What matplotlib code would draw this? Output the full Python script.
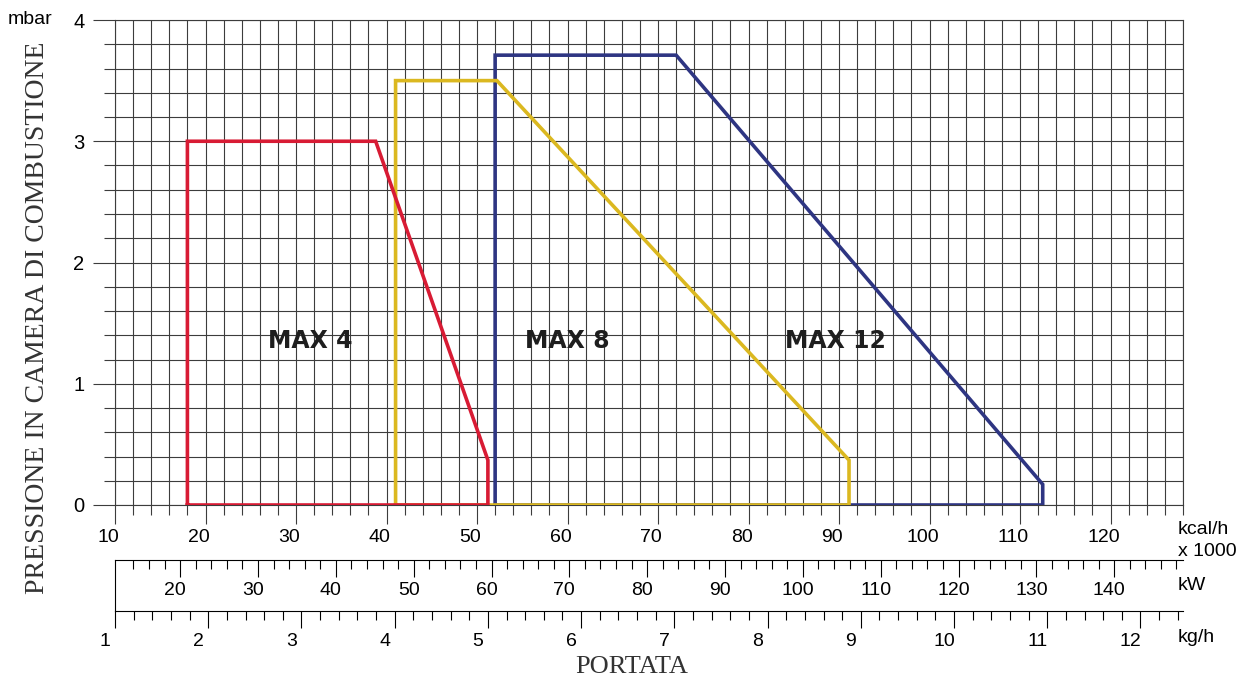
import numpy as np
import matplotlib.pyplot as plt
from matplotlib.transforms import ScaledTranslation

# working envelopes: kcal/h x 1000 vs mbar
max4_x = [18.0, 18.0, 38.8, 51.2, 51.2, 18.0]
max4_y = [0.0, 3.0, 3.0, 0.37, 0.0, 0.0]
max8_x = [41.0, 41.0, 52.2, 91.1, 91.1, 41.0]
max8_y = [0.0, 3.5, 3.5, 0.37, 0.0, 0.0]
max12_x = [52.0, 52.0, 72.0, 112.5, 112.5, 52.0]
max12_y = [0.0, 3.71, 3.71, 0.17, 0.0, 0.0]

names = ['MAX 4', 'MAX 8', 'MAX 12']
name_x = [31.6, 60.0, 89.6]
name_y = 1.35

kcal_ticks = [10, 20, 30, 40, 50, 60, 70, 80, 90, 100, 110, 120]
kw_ticks = [20, 30, 40, 50, 60, 70, 80, 90, 100, 110, 120, 130, 140]
kg_ticks = [1, 2, 3, 4, 5, 6, 7, 8, 9, 10, 11, 12]

red = '#d81b34'
yellow = '#dbb820'
navy = '#2e3582'
gridc = '#3c3c3c'

def kcal2kw(x):
    return np.asarray(x) / 0.86

def kw2kcal(x):
    return np.asarray(x) * 0.86

def kcal2kg(x):
    return 1 + (np.asarray(x) - 10) / 10.3

def kg2kcal(x):
    return 10 + (np.asarray(x) - 1) * 10.3

plt.rcParams['font.family'] = ['Liberation Sans', 'DejaVu Sans']

fig = plt.figure(figsize=(12.49, 6.81), dpi=100)
ax = fig.add_axes([115/1249, 1 - 505/681, 1068/1249, 485/681])

ax.set_xlim(10, 128)
ax.set_ylim(0, 4)
ax.set_xticks(kcal_ticks)
ax.set_xticks(np.arange(10, 129, 2), minor=True)
ax.set_yticks([0, 1, 2, 3, 4])
ax.set_yticks(np.arange(0, 4.01, 0.2), minor=True)
ax.grid(which='both', color=gridc, lw=0.8)
ax.set_axisbelow(True)
for s in ax.spines.values():
    s.set_color(gridc)
    s.set_linewidth(0.8)

ax.tick_params(axis='x', which='major', direction='out', length=14, width=0.8,
               color=gridc, labelsize=14, pad=3)
ax.tick_params(axis='x', which='minor', direction='out', length=7, width=0.8, color=gridc)
ax.tick_params(axis='y', which='major', direction='out', length=16, width=0.8,
               color=gridc, labelsize=14.5, pad=6)
ax.tick_params(axis='y', which='minor', direction='out', length=8, width=0.8, color=gridc)

# envelopes
ax.plot(max12_x, max12_y, color=navy, lw=2.6, solid_joinstyle='miter', zorder=3)
ax.plot(max8_x, max8_y, color=yellow, lw=2.6, solid_joinstyle='miter', zorder=4)
ax.plot(max4_x, max4_y, color=red, lw=2.6, solid_joinstyle='miter', zorder=5)

for n, x in zip(names, name_x):
    ax.text(x, name_y, n, ha='center', va='center', fontsize=17,
            fontweight='bold', family='DejaVu Sans', color='#1e1e1e', zorder=6)

# secondary scales
kw = ax.secondary_xaxis(-55/485, functions=(kcal2kw, kw2kcal))
kw.set_xticks(kw_ticks)
kw.set_xticks(np.arange(14, 149, 2), minor=True)
kw.tick_params(which='major', direction='out', length=12, width=0.8, labelsize=14, pad=4)
kw.tick_params(which='minor', direction='out', length=6.5, width=0.8)
kw.spines['bottom'].set_linewidth(0.8)

kg = ax.secondary_xaxis(-106/485, functions=(kcal2kg, kg2kcal))
kg.set_xticks(kg_ticks)
kg.set_xticks(np.arange(1, 12.5, 0.2), minor=True)
kg.tick_params(which='major', direction='out', length=12, width=0.8, labelsize=14, pad=4)
kg.tick_params(which='minor', direction='out', length=6.5, width=0.8)
kg.spines['bottom'].set_linewidth(0.8)

ax.plot([10, 10], [-55/485, -106/485], color='black', lw=0.8,
        transform=ax.get_xaxis_transform(), clip_on=False)

# labels sit a little left of their ticks
def shift(labels, px):
    off = ScaledTranslation(px/100, 0, fig.dpi_scale_trans)
    for lab in labels:
        lab.set_transform(lab.get_transform() + off)

shift(ax.get_xticklabels(), -7)
shift(kw.get_xticklabels(), -5)
shift(kg.get_xticklabels(), -10)

fig.text(8/1249, 1 - 20/681, 'mbar', fontsize=14, va='center', ha='left')
fig.text(1178/1249, 1 - 530/681, 'kcal/h', fontsize=14, va='center', ha='left')
fig.text(1178/1249, 1 - 551/681, 'x 1000', fontsize=14, va='center', ha='left')
fig.text(1178/1249, 1 - 586/681, 'kW', fontsize=14, va='center', ha='left')
fig.text(1178/1249, 1 - 638/681, 'kg/h', fontsize=14, va='center', ha='left')

fig.text(38/1249, 1 - 318/681, 'PRESSIONE IN CAMERA DI COMBUSTIONE', rotation=90,
         fontsize=20, family='Liberation Serif', color='#333333', ha='center', va='center')
fig.text(632/1249, 1 - 667/681, 'PORTATA', fontsize=19, family='Liberation Serif',
         color='#333333', ha='center', va='center')

fig.savefig('out.png', dpi=100)
